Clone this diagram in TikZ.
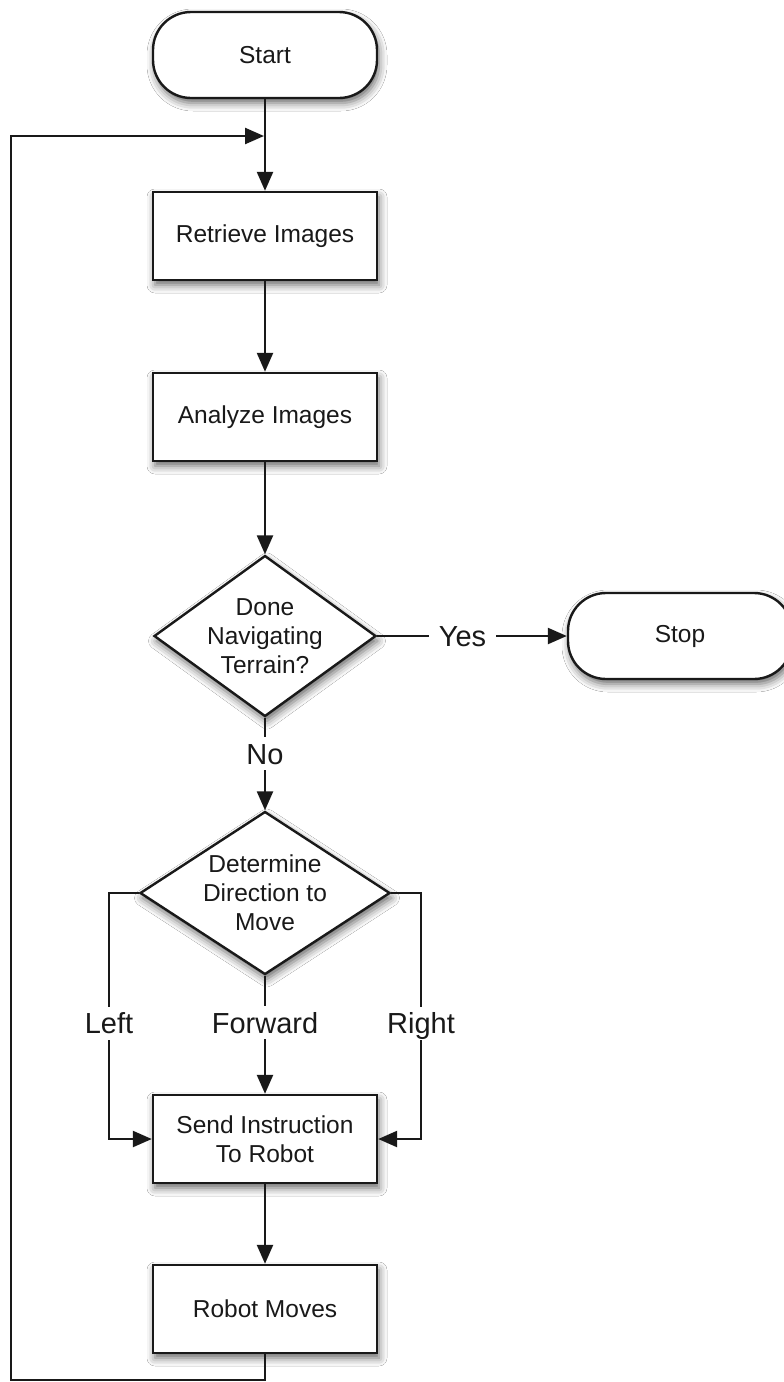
\documentclass[tikz,border=0pt]{standalone}
\usepackage{fontspec}
\setmainfont{Liberation Sans}
\usetikzlibrary{shapes.geometric,arrows.meta,shadows.blur}
\newcommand{\dtext}[1]{\raisebox{-9pt}[0pt][0pt]{\makebox[0pt]{\begin{tabular}{@{}c@{}}#1\end{tabular}}}}
\begin{document}
\begin{tikzpicture}[x=1pt,y=-1pt,
  every node/.style={font=\fontsize{24.5}{29}\selectfont, text=black!90},
  boxsh/.style={blur shadow={shadow xshift=2pt, shadow yshift=-5pt, shadow blur radius=8pt, shadow opacity=60}},
  proc/.style={draw=black!90, line width=2.4pt, fill=white, rectangle, minimum width=224pt, minimum height=88pt, align=center, boxsh, inner sep=0pt},
  term/.style={proc, rounded corners=38pt, minimum height=86pt},
  dec/.style={draw=black!90, line width=2.4pt, fill=white, diamond, inner sep=0pt, boxsh},
  conn/.style={line width=2.4pt, draw=black!90, -{Triangle[length=19pt,width=16pt]}},
  lab/.style={font=\fontsize{29}{34}\selectfont, fill=white, text height=21pt, text depth=0pt, inner xsep=10pt, inner ysep=6pt}
]
\useasboundingbox (0,0) rectangle (784,1382);
\fill[white] (0,0) rectangle (784,1382);

\node[term] (start) at (265,55) {Start};
\node[proc] (retrieve) at (265,236) {Retrieve Images};
\node[proc] (analyze) at (265,417) {Analyze Images};
\node[dec, minimum width=222pt, minimum height=161pt] (d1) at (265,636) {\dtext{Done\\Navigating\\Terrain?}};
\node[term] (stop) at (680,636) {Stop};
\node[dec, minimum width=250pt, minimum height=163pt] (d2) at (265,893) {\dtext{Determine\\Direction to\\Move}};
\node[proc] (send) at (265,1139) {Send Instruction\\To Robot};
\node[proc] (robot) at (265,1309) {Robot Moves};

\coordinate (lc) at (109,893);
\coordinate (lcb) at (109,1139);
\coordinate (rc) at (421,893);
\coordinate (rcb) at (421,1139);
\coordinate (lb1) at (265,1380);
\coordinate (lb2) at (11,1380);
\coordinate (lt) at (11,136);
\coordinate (lj) at (264,136);

\draw[conn] (start) -- (retrieve);
\draw[conn] (retrieve) -- (analyze);
\draw[conn] (analyze) -- (d1);
\draw[conn] (d1) -- node[lab,pos=0.45]{Yes} (stop);
\draw[conn] (d1) -- node[lab,pos=0.39]{No} (d2);
\draw[conn] (d2) -- node[lab,pos=0.4]{Forward} (send);
\draw[conn] (d2.west) -- (lc) -- node[lab,pos=0.53]{Left} (lcb) -- (send.west);
\draw[conn] (d2.east) -- (rc) -- node[lab,pos=0.53]{Right} (rcb) -- (send.east);
\draw[conn] (send) -- (robot);
\draw[conn] (robot.south) -- (lb1) -- (lb2) -- (lt) -- (lj);
\end{tikzpicture}
\end{document}
